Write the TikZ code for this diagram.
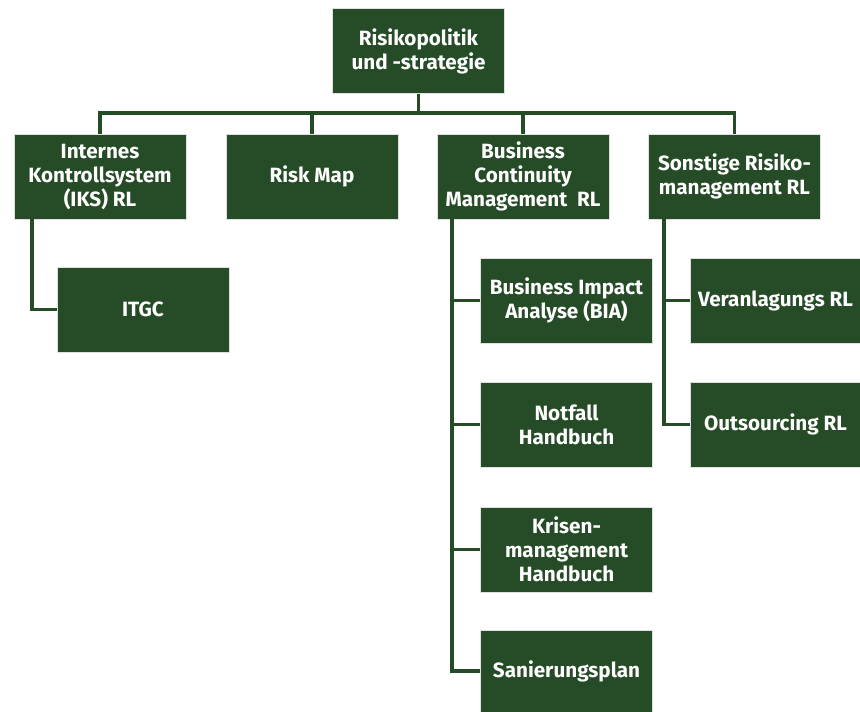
\documentclass[tikz,border=0pt]{standalone}
\usepackage{fontspec}
\setmainfont{Fira Sans}
\usepackage{tikz}

\definecolor{boxgreen}{RGB}{37,76,38}
\tikzset{
  box/.style={fill=boxgreen,draw=black!12,thin,text=white,align=center,
    font=\fontsize{15.5}{18}\selectfont\bfseries,inner sep=1pt,
    minimum width=129pt,minimum height=63.75pt},
  link/.style={draw=boxgreen,line width=2.8pt}
}

\begin{document}
\begin{tikzpicture}[x=0.75pt,y=-0.75pt]
  \useasboundingbox (0,0) rectangle (860,711);
  % top
  \node[box] (top) at (418.5,51) {Risikopolitik\\und -strategie};
  % second row
  \node[box] (iks) at (100,176.5) {Internes\\Kontrollsystem\\(IKS) RL};
  \node[box] (riskmap) at (312,176.5) {Risk Map};
  \node[box] (bcm) at (523,176.5) {Business\\Continuity\\Management\ \ RL};
  \node[box] (sonst) at (734.5,176.5) {Sonstige Risiko-\\management RL};
  % below
  \node[box] (itgc) at (143,309.5) {ITGC};
  \node[box] (bia) at (566.5,300.5) {Business Impact\\Analyse (BIA)};
  \node[box] (notfall) at (566.5,424.5) {Notfall\\Handbuch};
  \node[box] (krisen) at (566.5,549.5) {Krisen-\\management\\Handbuch};
  \node[box,minimum height=61.5pt] (sanier) at (566.5,671) {Sanierungsplan};
  \node[box,minimum width=127.5pt] (veran) at (775.5,300.5) {Veranlagungs RL};
  \node[box,minimum width=127.5pt] (outs) at (775.5,424.5) {Outsourcing RL};

  % connectors
  \draw[link] (top.south) -- ++(0,19) coordinate (bus);
  \draw[link] (iks.north) |- (sonst.north |- bus) -- (sonst.north);
  \draw[link] (riskmap.north) -- (riskmap.north |- bus);
  \draw[link] (bcm.north) -- (bcm.north |- bus);
  \draw[link] ([xshift=13.5pt]iks.south west) |- (itgc.west);
  \coordinate (bcmtrunk) at ([xshift=11.25pt]bcm.south west);
  \draw[link] (bcmtrunk) |- (sanier.west);
  \foreach \n in {bia,notfall,krisen}
    \draw[link] (\n.west) -- (\n.west -| bcmtrunk);
  \coordinate (sonsttrunk) at ([xshift=12pt]sonst.south west);
  \draw[link] (sonsttrunk) |- (outs.west);
  \draw[link] (veran.west) -- (veran.west -| sonsttrunk);
\end{tikzpicture}
\end{document}
